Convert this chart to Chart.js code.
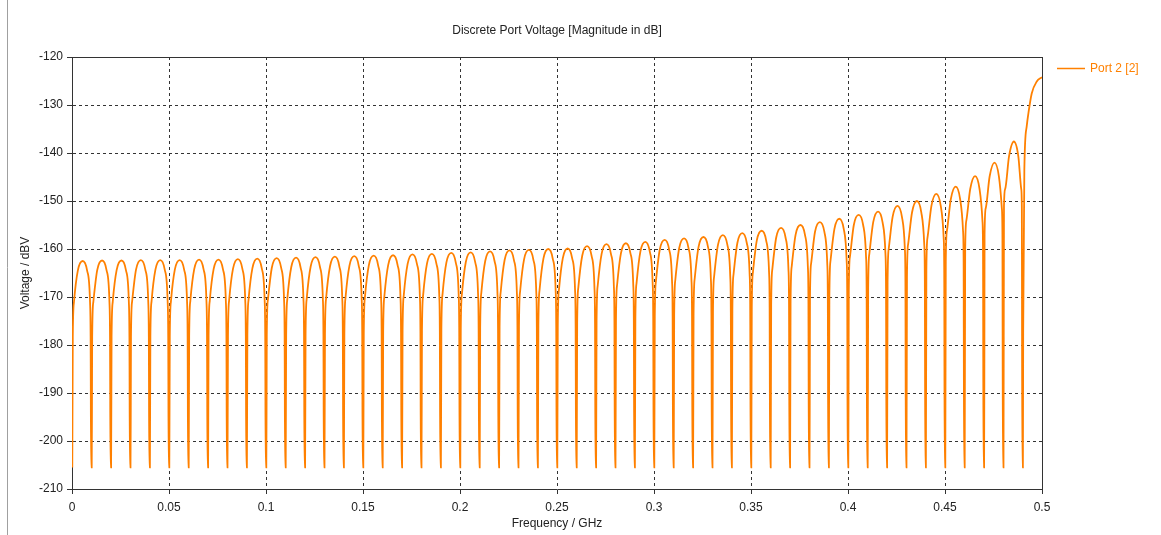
<!DOCTYPE html>
<html>
<head>
<meta charset="utf-8">
<script src="https://cdn.jsdelivr.net/npm/chart.js@4.4.1/dist/chart.umd.min.js"></script>
<style>
  html, body { margin: 0; padding: 0; background: #fff; }
  canvas { display: block; }
</style>
</head>
<body>
<canvas id="grafico" width="1161" height="535"></canvas>
<script>
// Frequências dos nulos (GHz) e profundidade de cada nulo (dBV)
const nullFreqGHz = [0, 0.01, 0.02, 0.03, 0.04, 0.05, 0.06, 0.07, 0.08, 0.09,
    0.10, 0.11, 0.12, 0.13, 0.14, 0.15, 0.16, 0.17, 0.18, 0.19,
    0.20, 0.21, 0.22, 0.23, 0.24, 0.25, 0.26, 0.27, 0.28, 0.29,
    0.30, 0.31, 0.32, 0.33, 0.34, 0.35, 0.36, 0.37, 0.38, 0.39,
    0.40, 0.41, 0.42, 0.43, 0.44, 0.45, 0.46, 0.47, 0.48, 0.49];
const nullDb = [-205.5, -205.5, -205.5, -205.5, -205.5, -205.5, -205.5, -205.5, -205.5, -205.5,
    -205.5, -205.5, -205.5, -205.5, -205.5, -205.5, -205.5, -205.5, -205.5, -205.5,
    -205.5, -205.5, -205.5, -205.5, -205.5, -205.5, -205.5, -205.5, -205.5, -205.5,
    -205.5, -205.5, -205.5, -205.5, -205.5, -205.5, -205.5, -205.5, -205.5, -205.5,
    -205.5, -205.5, -205.5, -205.5, -205.5, -205.5, -205.5, -205.5, -205.5, -205.5];
// Largeira do fundo de cada nulo (GHz, para cada lado)
const nullHalfGHz = 0.00015;

// Pontos de cada lóbulo: deslocamento desde o nulo (GHz)
const lobeOffsetGHz = [0.0004, 0.001, 0.003, 0.0055, 0.0078, 0.0093, 0.0096];

const lobePeakDb = [-162.5, -162.4, -162.4, -162.3, -162.3, -162.3, -162.2, -162.2, -162.1, -162.0,
    -161.9, -161.8, -161.7, -161.6, -161.5, -161.4, -161.3, -161.1, -161.0, -160.8,
    -160.7, -160.5, -160.3, -160.2, -160.0, -159.9, -159.4, -159.0, -158.8, -158.5,
    -158.1, -157.8, -157.5, -157.1, -156.7, -156.2, -155.6, -155.0, -154.4, -153.7,
    -152.9, -152.2, -151.0, -150.0, -148.5, -147.0, -144.8, -142.0, -137.6];
const lobeQuarterDb = [-164.5, -164.4, -164.4, -164.3, -164.3, -164.3, -164.2, -164.2, -164.1, -164.0,
    -163.9, -163.8, -163.7, -163.6, -163.5, -163.4, -163.3, -163.1, -163.0, -162.8,
    -162.7, -162.5, -162.3, -162.2, -162.0, -161.9, -161.4, -161.0, -160.8, -160.5,
    -160.1, -159.8, -159.5, -159.1, -158.7, -158.2, -157.6, -157.0, -156.4, -155.8,
    -155.0, -154.4, -153.3, -152.4, -151.0, -149.6, -147.5, -144.9, -140.7];
const lobeShoulderDb = [-171.1, -171.0, -171.0, -170.9, -170.9, -170.9, -170.8, -170.8, -170.7, -170.6,
    -170.5, -170.4, -170.3, -170.2, -170.1, -170.0, -169.9, -169.7, -169.6, -169.4,
    -169.3, -169.1, -168.9, -168.8, -168.6, -168.5, -168.0, -167.6, -167.4, -167.1,
    -166.7, -166.4, -166.1, -165.7, -165.3, -164.8, -164.2, -163.6, -163.0, -162.4,
    -161.6, -161.0, -159.9, -159.0, -157.6, -156.2, -154.1, -151.5, -147.5];
const lobeEdgeDb = [-178.5, -178.4, -178.4, -178.3, -178.3, -178.3, -178.2, -178.2, -178.1, -178.0,
    -177.9, -177.8, -177.7, -177.6, -177.5, -177.4, -177.3, -177.1, -177.0, -176.8,
    -176.7, -176.5, -176.3, -176.2, -176.0, -175.9, -175.4, -175.0, -174.8, -174.5,
    -174.1, -173.8, -173.5, -173.1, -172.7, -172.2, -171.6, -171.0, -170.4, -169.7,
    -168.9, -168.2, -167.0, -165.8, -164.3, -162.7, -160.4, -157.0, -151.0];

// Amostras extras logo depois de alguns nulos
const secondDipNull = [1, 3, 10, 38, 40, 47, 49];
const secondDipDb   = [-192, -192, -192, -188, -187.3, -182.4, -177.6];

// Último trecho, subindo até 0.5 GHz
const tailGHz = [0.4909, 0.4921, 0.4930, 0.4947, 0.4973, 0.5];
const tailDb  = [-143.5, -134.5, -131.7, -127.6, -125.1, -124.2];

// Eixos
const xTickValues = [0, 0.05, 0.1, 0.15, 0.2, 0.25, 0.3, 0.35, 0.4, 0.45, 0.5];
const xTickLabels = ['0', '0.05', '0.1', '0.15', '0.2', '0.25', '0.3', '0.35', '0.4', '0.45', '0.5'];
const yTickValues = [-210, -200, -190, -180, -170, -160, -150, -140, -130, -120];
const yTickLabels = ['-210', '-200', '-190', '-180', '-170', '-160', '-150', '-140', '-130', '-120'];

const LARANJA = '#ff8000';
const FONTE   = 'Liberation Sans';

// Monta a lista de pontos a partir das tabelas
const pontos = [];
for (let k = 0; k < nullFreqGHz.length; k++) {
    const f0 = nullFreqGHz[k];
    if (f0 - nullHalfGHz >= 0) pontos.push({ x: f0 - nullHalfGHz, y: nullDb[k] });
    pontos.push({ x: f0 + nullHalfGHz, y: nullDb[k] });
    const d = secondDipNull.indexOf(k);
    if (d >= 0) pontos.push({ x: f0 + 0.0003, y: secondDipDb[d] });
    if (k < lobePeakDb.length) {
        const valores = [lobeEdgeDb[k], lobeShoulderDb[k], lobeQuarterDb[k], lobePeakDb[k],
                         lobeQuarterDb[k], lobeShoulderDb[k], lobeEdgeDb[k]];
        lobeOffsetGHz.forEach((off, i) => pontos.push({ x: f0 + off, y: valores[i] }));
    }
}
tailGHz.forEach((f, i) => pontos.push({ x: f, y: tailDb[i] }));

// Moldura, título e legenda
const molduraPlugin = {
    id: 'moldura',
    beforeDraw(chart) {
        const ctx = chart.ctx;
        ctx.save();
        ctx.fillStyle = '#fff';
        ctx.fillRect(0, 0, chart.width, chart.height);
        ctx.strokeStyle = '#a0a0a0';
        ctx.lineWidth = 1;
        ctx.beginPath();
        ctx.moveTo(7.5, 0);
        ctx.lineTo(7.5, chart.height);
        ctx.stroke();
        ctx.restore();
    },
    afterDraw(chart) {
        const { ctx, chartArea: a } = chart;
        const topo    = Math.round(a.top - 0.5) + 0.5;
        const direita = Math.round(a.right - 0.5) + 0.5;
        ctx.save();
        ctx.strokeStyle = '#333';
        ctx.lineWidth = 1;
        ctx.beginPath();
        ctx.moveTo(a.left, topo);
        ctx.lineTo(direita, topo);
        ctx.lineTo(direita, a.bottom);
        ctx.stroke();

        ctx.font = `12px "${FONTE}"`;
        ctx.fillStyle = '#222';
        ctx.textAlign = 'center';
        ctx.textBaseline = 'middle';
        ctx.fillText('Discrete Port Voltage [Magnitude in dB]', (a.left + a.right) / 2, 31);

        ctx.strokeStyle = LARANJA;
        ctx.lineWidth = 1.5;
        ctx.beginPath();
        ctx.moveTo(1057, 68.5);
        ctx.lineTo(1085, 68.5);
        ctx.stroke();
        ctx.fillStyle = LARANJA;
        ctx.textAlign = 'left';
        ctx.fillText(chart.data.datasets[0].label, 1090, 69);
        ctx.restore();
    }
};

const fonte = { family: FONTE, size: 12 };

new Chart(document.getElementById('grafico'), {
    type: 'line',
    data: {
        datasets: [{
            label: 'Port 2 [2]',
            data: pontos,
            borderColor: LARANJA,
            borderWidth: 1.8,
            pointRadius: 0,
            fill: false,
            cubicInterpolationMode: 'monotone'
        }]
    },
    options: {
        responsive: false,
        animation: false,
        devicePixelRatio: 1,
        layout: { padding: { left: 0, top: 57, right: 119, bottom: 0 } },
        plugins: {
            legend: { display: false },
            title: { display: false },
            tooltip: { enabled: false }
        },
        scales: {
            x: {
                type: 'linear',
                min: 0,
                max: 0.5,
                afterBuildTicks: s => { s.ticks = xTickValues.map(v => ({ value: v })); },
                afterFit: s => { s.height = 46; },
                ticks: {
                    callback: (v, i) => xTickLabels[i],
                    autoSkip: false,
                    maxRotation: 0,
                    padding: 6,
                    color: '#222',
                    font: fonte
                },
                grid: { color: '#333', tickLength: 5, tickColor: '#333', tickBorderDash: [] },
                border: { color: '#333', dash: [3, 3] },
                title: {
                    display: true,
                    text: 'Frequency / GHz',
                    color: '#222',
                    font: fonte,
                    padding: { top: 0, bottom: 4 }
                }
            },
            y: {
                min: -210,
                max: -120,
                afterBuildTicks: s => { s.ticks = yTickValues.map(v => ({ value: v })); },
                afterFit: s => { s.width = 72; },
                ticks: {
                    callback: (v, i) => yTickLabels[i],
                    autoSkip: false,
                    padding: 4,
                    color: '#222',
                    font: fonte
                },
                grid: { color: '#333', tickLength: 5, tickColor: '#333', tickBorderDash: [] },
                border: { color: '#333', dash: [3, 3] },
                title: {
                    display: true,
                    text: 'Voltage / dBV',
                    color: '#222',
                    font: fonte,
                    padding: { top: 18, bottom: 0 }
                }
            }
        }
    },
    plugins: [molduraPlugin]
});
</script>
</body>
</html>
